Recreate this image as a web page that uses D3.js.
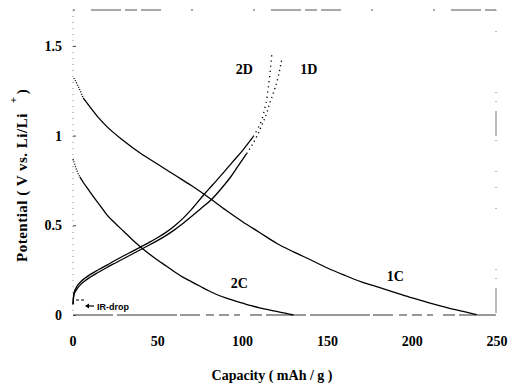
<!DOCTYPE html>
<html><head><meta charset="utf-8">
<script src="https://cdn.jsdelivr.net/npm/d3@7"></script>
<style>body{margin:0;background:#fff}svg{display:block}</style>
</head><body>
<svg id="c" width="508" height="385"></svg>
<script>
// ---- data (capacity mAh/g, potential V) ----
const xTicks = [0, 50, 100, 150, 200, 250];
const yTicks = [0, 0.5, 1, 1.5];
const yTickLabels = ["0", "0.5", "1", "1.5"];

const curve1C = [[0.5,1.32],[2.8,1.28],[6,1.21],[10,1.16],[15,1.10],[20,1.05],[30,0.97],[40,0.90],[50,0.84],[60,0.78],[70,0.72],[80,0.655],[90,0.585],[100,0.52],[110,0.46],[120,0.40],[130,0.352],[140,0.308],[150,0.262],[160,0.222],[170,0.185],[180,0.155],[190,0.125],[200,0.095],[210,0.068],[220,0.043],[230,0.02],[238,0.002]];
const curve2C = [[0,0.87],[1,0.84],[2.5,0.80],[4,0.77],[6,0.74],[9,0.70],[12,0.66],[16,0.61],[20,0.558],[25,0.51],[30,0.465],[35,0.42],[40,0.378],[45,0.34],[50,0.305],[55,0.273],[60,0.24],[65,0.21],[70,0.185],[75,0.16],[80,0.135],[85,0.113],[90,0.095],[95,0.08],[100,0.066],[105,0.052],[110,0.04],[115,0.03],[120,0.02],[125,0.01],[130,0.0]];
const curve2D = [[0,0.06],[0.5,0.12],[2,0.155],[4,0.18],[7,0.205],[10,0.225],[15,0.252],[20,0.278],[25,0.305],[30,0.33],[35,0.355],[40,0.38],[45,0.405],[50,0.432],[55,0.462],[60,0.498],[65,0.54],[70,0.59],[77,0.669],[82,0.722],[88.6,0.792],[94,0.852],[100.4,0.922],[106.3,0.994],[109,1.04],[111.3,1.087],[113,1.15],[114.2,1.2],[115,1.26],[115.7,1.31],[116.6,1.39],[117.2,1.45]];
const curve1D = [[0,0.06],[0.5,0.11],[2,0.14],[4,0.165],[7,0.19],[10,0.21],[15,0.238],[20,0.265],[25,0.29],[30,0.315],[35,0.34],[40,0.365],[45,0.39],[50,0.416],[55,0.444],[60,0.476],[65,0.512],[70,0.55],[75,0.59],[81.8,0.645],[87,0.70],[92.6,0.765],[97,0.825],[102.4,0.90],[108.3,0.994],[111,1.05],[114.2,1.124],[116,1.18],[118.1,1.236],[121,1.328],[123,1.42]];

const curveLabels = ["1C", "2C", "1D", "2D"];
const labelPos = [[190,0.22],[98,0.18],[139,1.37],[101,1.37]];

// ---- layout ----
const svg = d3.select("#c");
const x = d3.scaleLinear().domain([0, 250]).range([73, 497]);
const y = d3.scaleLinear().domain([0, 1.7]).range([315, 10]);
const serif = "'Liberation Serif','Times New Roman',serif";

// frame (faint, scanned look)
const fr = svg.append("g").attr("fill","none").attr("stroke","#555").attr("stroke-width",1);
fr.append("line").attr("x1",73).attr("x2",73).attr("y1",y(1.7)).attr("y2",y(0)).attr("stroke-dasharray","1,5").attr("stroke","#888");
fr.append("line").attr("x1",73).attr("x2",496).attr("y1",y(1.7)).attr("y2",y(1.7)).attr("stroke-dasharray","2,16,30,4,12,4,20,30,2,60").attr("stroke-width",1.2);
fr.append("line").attr("x1",496).attr("x2",496).attr("y1",y(1.7)).attr("y2",y(0)).attr("stroke-dasharray","1,20,1,60,1,8,1,9,25,4,1,30,1,15").attr("stroke","#777");
fr.append("line").attr("x1",73).attr("x2",496).attr("y1",y(0)).attr("y2",y(0)).attr("stroke-dasharray","40,4,60,3,20,6,8,5,10,5,6,10,12,4").attr("stroke","#333").attr("stroke-width",1.1);

// axes with D3
const yAxis = d3.axisRight(y).tickValues(yTicks).tickSize(3).tickFormat("");
const ga = svg.append("g").attr("transform","translate(73,0)").call(yAxis);
ga.select(".domain").remove();
ga.selectAll(".tick line").attr("stroke","#444");

svg.append("g").selectAll("text").data(yTicks).join("text")
  .attr("x",62).attr("y",d=>y(d)+5).attr("text-anchor","end")
  .attr("font-family",serif).attr("font-weight","bold").attr("font-size",14)
  .text((d,i)=>yTickLabels[i]);

svg.append("g").selectAll("text").data(xTicks).join("text")
  .attr("x",d=>x(d)).attr("y",346).attr("text-anchor","middle")
  .attr("font-family",serif).attr("font-weight","bold").attr("font-size",14)
  .text(d=>d);

// axis titles
svg.append("text").attr("x",272).attr("y",380).attr("text-anchor","middle")
  .attr("font-family",serif).attr("font-weight","bold").attr("font-size",14)
  .text("Capacity ( mAh / g )");
const yt = svg.append("text").attr("transform","translate(27,262) rotate(-90)")
  .attr("font-family",serif).attr("font-weight","bold").attr("font-size",15).attr("letter-spacing",0.5);
yt.append("tspan").text("Potential ( V vs. Li/Li");
yt.append("tspan").attr("dx",10).attr("dy",-10).attr("font-size",11).text("+");
yt.append("tspan").attr("dx",2).attr("dy",10).text(")");

// curves
const line = d3.line().x(d=>x(d[0])).y(d=>y(d[1])).curve(d3.curveMonotoneX);
function drawSplit(data, solidPred, dashed){
  const g = svg.append("g").attr("fill","none").attr("stroke","#000");
  g.append("path").attr("d", line(data.filter(solidPred))).attr("stroke-width",1.3);
  g.append("path").attr("d", line(data.filter(d=>!solidPred(d) || dashed.edge(d)))).attr("stroke-width",1.35).attr("stroke-dasharray",dashed.pattern);
}
drawSplit(curve1C, d=>d[0]>=6, {pattern:"1,1.5", edge:d=>d[0]===6});
drawSplit(curve2C, d=>d[0]>=4, {pattern:"1,1.5", edge:d=>d[0]===4});
drawSplit(curve2D, d=>d[1]<=0.995, {pattern:"1.2,4", edge:d=>d[1]===0.994});
drawSplit(curve1D, d=>d[1]<=0.9, {pattern:"1.2,3.5", edge:d=>d[1]===0.90});

// curve labels
svg.append("g").selectAll("text").data(curveLabels).join("text")
  .attr("x",(d,i)=>x(labelPos[i][0])).attr("y",(d,i)=>y(labelPos[i][1])+5)
  .attr("text-anchor","middle").attr("font-family",serif).attr("font-weight","bold").attr("font-size",14)
  .text(d=>d);

// IR-drop annotation
svg.append("line").attr("x1",76).attr("x2",85).attr("y1",300).attr("y2",300).attr("stroke","#000").attr("stroke-dasharray","3,2");
svg.append("line").attr("x1",86).attr("x2",94).attr("y1",306).attr("y2",306).attr("stroke","#000").attr("stroke-width",1.2);
svg.append("path").attr("d","M85,306 L89,303.5 L89,308.5 Z").attr("fill","#000");
svg.append("text").attr("x",97).attr("y",309.5).attr("font-family","'Liberation Sans',Arial,sans-serif")
  .attr("font-weight","bold").attr("font-size",9).text("IR-drop");
</script>
</body></html>
